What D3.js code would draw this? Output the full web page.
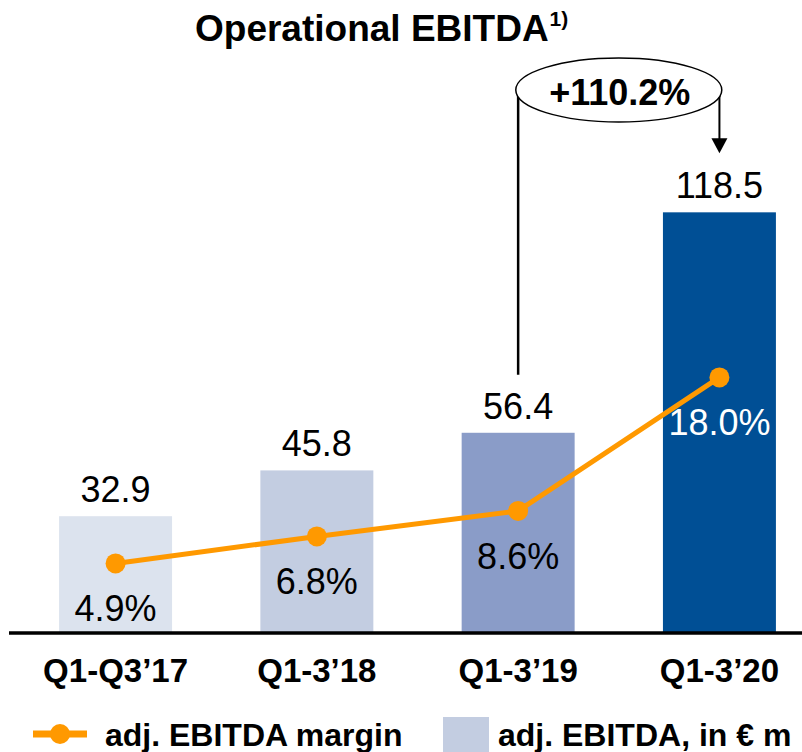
<!DOCTYPE html>
<html>
<head>
<meta charset="utf-8">
<script src="https://cdn.jsdelivr.net/npm/d3@7"></script>
<style>
	body { margin: 0; background: #fff; }
	svg { font-family: "Liberation Sans", Arial, sans-serif; display: block; }
</style>
</head>
<body>
<div id="chart"></div>
<script>

var categories = ["Q1-Q3\u201917", "Q1-3\u201918", "Q1-3\u201919", "Q1-3\u201920"];
var ebitda = [32.9, 45.8, 56.4, 118.5];
var margin = [4.9, 6.8, 8.6, 18.0];
var ebitdaLabels = ["32.9", "45.8", "56.4", "118.5"];
var marginLabels = ["4.9%", "6.8%", "8.6%", "18.0%"];
var barColors = ["#dce3ee", "#c3cde1", "#8a9cc8", "#004f95"];
var growthLabel = "+110.2%";

var width = 802, height = 752;
var baseY = 633;

var svg = d3.select("#chart").append("svg")
	.attr("width", width)
	.attr("height", height);

var x = d3.scaleBand()
	.domain(categories)
	.range([15, 820])
	.paddingInner(0.4387)
	.paddingOuter(0.219);

var y = d3.scaleLinear()
	.domain([0, 140])
	.range([baseY, 136]);

var yMargin = d3.scaleLinear()
	.domain([0, 20])
	.range([baseY, 349]);

var cx = function(d, i){ return x(categories[i]) + x.bandwidth() / 2; };

// title
var title = svg.append("text")
	.attr("x", 195)
	.attr("y", 41)
	.attr("font-size", 37)
	.attr("font-weight", "bold")
	.text("Operational EBITDA");
title.append("tspan")
	.attr("dx", 1)
	.attr("dy", -15)
	.attr("font-size", 21)
	.text("1)");

// bars
svg.selectAll(".bar")
	.data(ebitda).enter()
	.append("rect")
	.attr("class", "bar")
	.attr("x", function(d, i) { return x(categories[i]); })
	.attr("y", function(d) { return y(d); })
	.attr("width", x.bandwidth())
	.attr("height", function(d) { return baseY - y(d); })
	.attr("fill", function(d, i) { return barColors[i]; });

svg.selectAll(".val")
	.data(ebitda).enter()
	.append("text")
	.attr("class", "val")
	.attr("x", cx)
	.attr("y", function(d) { return y(d) - 14; })
	.attr("text-anchor", "middle")
	.attr("font-size", 36)
	.text(function(d, i) { return ebitdaLabels[i]; });

// axis line
var xAxis = d3.axisBottom(x).tickSize(0).tickPadding(26);
var gx = svg.append("g")
	.attr("transform", "translate(0," + baseY + ")")
	.call(xAxis);
gx.select(".domain").remove();
gx.selectAll("text")
	.attr("font-family", "\"Liberation Sans\", Arial, sans-serif")
	.attr("font-size", 33)
	.attr("font-weight", "bold")
	.attr("fill", "#000");

svg.append("line")
	.attr("x1", 9).attr("x2", width)
	.attr("y1", baseY).attr("y2", baseY)
	.attr("stroke", "#000")
	.attr("stroke-width", 3.5);

// margin line
var line = d3.line()
	.x(cx)
	.y(function(d) { return yMargin(d); });

svg.append("path")
	.datum(margin)
	.attr("d", line)
	.attr("fill", "none")
	.attr("stroke", "#ff9900")
	.attr("stroke-width", 5);

svg.selectAll(".dot")
	.data(margin).enter()
	.append("circle")
	.attr("class", "dot")
	.attr("cx", cx)
	.attr("cy", function(d) { return yMargin(d); })
	.attr("r", 10)
	.attr("fill", "#ff9900");

svg.selectAll(".pct")
	.data(margin).enter()
	.append("text")
	.attr("class", "pct")
	.attr("x", cx)
	.attr("y", function(d) { return yMargin(d) + 58; })
	.attr("text-anchor", "middle")
	.attr("font-size", 36)
	.attr("fill", function(d, i) { return i == 3 ? "#fff" : "#000"; })
	.text(function(d, i) { return marginLabels[i]; });

// growth annotation
var xa = cx(null, 2), xb = cx(null, 3);
var ex = (xa + xb) / 2, ey = 90;
svg.append("line")
	.attr("x1", xa).attr("x2", xa)
	.attr("y1", ey + 5).attr("y2", y(ebitda[2]) - 58)
	.attr("stroke", "#000").attr("stroke-width", 2.5);
svg.append("line")
	.attr("x1", xb).attr("x2", xb)
	.attr("y1", ey + 5).attr("y2", y(ebitda[3]) - 72)
	.attr("stroke", "#000").attr("stroke-width", 2);
svg.append("path")
	.attr("d", "M" + (xb - 8) + "," + (y(ebitda[3]) - 74) + "L" + (xb + 8) + "," + (y(ebitda[3]) - 74) + "L" + xb + "," + (y(ebitda[3]) - 59) + "Z")
	.attr("fill", "#000");
svg.append("ellipse")
	.attr("cx", ex).attr("cy", ey)
	.attr("rx", 103).attr("ry", 32)
	.attr("fill", "#fff")
	.attr("stroke", "#000")
	.attr("stroke-width", 1.5);
svg.append("text")
	.attr("x", ex + 1)
	.attr("y", 105)
	.attr("text-anchor", "middle")
	.attr("font-size", 36)
	.attr("font-weight", "bold")
	.text(growthLabel);

// legend
var lg = svg.append("g");
lg.append("line")
	.attr("x1", 33).attr("x2", 87)
	.attr("y1", 734).attr("y2", 734)
	.attr("stroke", "#ff9900").attr("stroke-width", 7);
lg.append("circle")
	.attr("cx", 60).attr("cy", 734).attr("r", 10)
	.attr("fill", "#ff9900");
lg.append("text")
	.attr("x", 105).attr("y", 746)
	.attr("font-size", 32).attr("font-weight", "bold")
	.text("adj. EBITDA margin");
lg.append("rect")
	.attr("x", 443).attr("y", 717)
	.attr("width", 46).attr("height", 36)
	.attr("fill", barColors[1]);
lg.append("text")
	.attr("x", 498).attr("y", 746)
	.attr("font-size", 32).attr("font-weight", "bold")
	.text("adj. EBITDA, in \u20ac m");

</script>
</body>
</html>
